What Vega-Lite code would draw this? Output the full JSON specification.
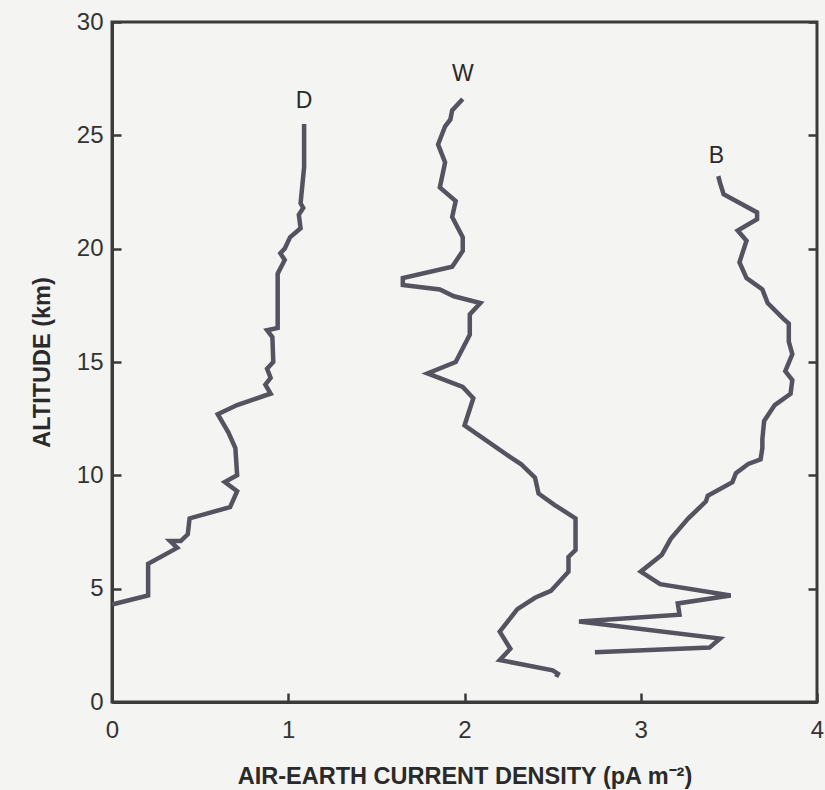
{
  "$schema": "https://vega.github.io/schema/vega-lite/v6.json",
  "width": 705,
  "height": 680,
  "autosize": {"type": "none"},
  "padding": {"left": 112, "top": 22, "right": 8, "bottom": 88},
  "background": "#f4f4f2",
  "config": {
    "view": {"stroke": "#3a3a3a", "strokeWidth": 3},
    "axis": {
      "domainColor": "#3a3a3a", "domainWidth": 3,
      "tickColor": "#3a3a3a", "tickWidth": 2.5, "tickSize": -9,
      "grid": false, "format": "d", "labelFlush": false,
      "labelFont": "Liberation Sans", "labelFontSize": 24, "labelColor": "#333333",
      "titleFont": "Liberation Sans", "titleFontSize": 23.5, "titleFontWeight": "bold", "titleColor": "#2a2a2a"
    }
  },
  "datasets": {
    "curves": [
      {"s": "D", "i": 1, "x": 1.09, "y": 25.5},
      {"s": "D", "i": 2, "x": 1.09, "y": 23.6},
      {"s": "D", "i": 3, "x": 1.07, "y": 22.0},
      {"s": "D", "i": 4, "x": 1.085, "y": 21.8},
      {"s": "D", "i": 5, "x": 1.06, "y": 21.5},
      {"s": "D", "i": 6, "x": 1.07, "y": 20.9},
      {"s": "D", "i": 7, "x": 1.01, "y": 20.5},
      {"s": "D", "i": 8, "x": 0.98, "y": 20.0},
      {"s": "D", "i": 9, "x": 0.955, "y": 19.8},
      {"s": "D", "i": 10, "x": 0.98, "y": 19.5},
      {"s": "D", "i": 11, "x": 0.94, "y": 18.9},
      {"s": "D", "i": 12, "x": 0.94, "y": 16.5},
      {"s": "D", "i": 13, "x": 0.88, "y": 16.4},
      {"s": "D", "i": 14, "x": 0.91, "y": 16.1},
      {"s": "D", "i": 15, "x": 0.915, "y": 15.0},
      {"s": "D", "i": 16, "x": 0.88, "y": 14.7},
      {"s": "D", "i": 17, "x": 0.9, "y": 14.3},
      {"s": "D", "i": 18, "x": 0.87, "y": 14.0},
      {"s": "D", "i": 19, "x": 0.9, "y": 13.6},
      {"s": "D", "i": 20, "x": 0.86, "y": 13.5},
      {"s": "D", "i": 21, "x": 0.71, "y": 13.1},
      {"s": "D", "i": 22, "x": 0.6, "y": 12.7},
      {"s": "D", "i": 23, "x": 0.66, "y": 11.9},
      {"s": "D", "i": 24, "x": 0.7, "y": 11.2},
      {"s": "D", "i": 25, "x": 0.71, "y": 10.0},
      {"s": "D", "i": 26, "x": 0.64, "y": 9.7},
      {"s": "D", "i": 27, "x": 0.71, "y": 9.3},
      {"s": "D", "i": 28, "x": 0.67, "y": 8.6},
      {"s": "D", "i": 29, "x": 0.44, "y": 8.1},
      {"s": "D", "i": 30, "x": 0.43, "y": 7.4},
      {"s": "D", "i": 31, "x": 0.39, "y": 7.1},
      {"s": "D", "i": 32, "x": 0.33, "y": 7.1},
      {"s": "D", "i": 33, "x": 0.37, "y": 6.8},
      {"s": "D", "i": 34, "x": 0.205, "y": 6.1},
      {"s": "D", "i": 35, "x": 0.205, "y": 4.7},
      {"s": "D", "i": 36, "x": 0.0, "y": 4.3},

      {"s": "W", "i": 1, "x": 1.99, "y": 26.6},
      {"s": "W", "i": 2, "x": 1.93, "y": 26.1},
      {"s": "W", "i": 3, "x": 1.92, "y": 25.7},
      {"s": "W", "i": 4, "x": 1.89, "y": 25.4},
      {"s": "W", "i": 5, "x": 1.85, "y": 24.6},
      {"s": "W", "i": 6, "x": 1.89, "y": 23.8},
      {"s": "W", "i": 7, "x": 1.86, "y": 22.7},
      {"s": "W", "i": 8, "x": 1.95, "y": 22.1},
      {"s": "W", "i": 9, "x": 1.93, "y": 21.4},
      {"s": "W", "i": 10, "x": 1.99, "y": 20.5},
      {"s": "W", "i": 11, "x": 1.99, "y": 19.9},
      {"s": "W", "i": 12, "x": 1.93, "y": 19.2},
      {"s": "W", "i": 13, "x": 1.65, "y": 18.7},
      {"s": "W", "i": 14, "x": 1.65, "y": 18.4},
      {"s": "W", "i": 15, "x": 1.86, "y": 18.2},
      {"s": "W", "i": 16, "x": 1.94, "y": 17.9},
      {"s": "W", "i": 17, "x": 2.09, "y": 17.6},
      {"s": "W", "i": 18, "x": 2.03, "y": 17.1},
      {"s": "W", "i": 19, "x": 2.03, "y": 16.2},
      {"s": "W", "i": 20, "x": 1.95, "y": 15.0},
      {"s": "W", "i": 21, "x": 1.79, "y": 14.5},
      {"s": "W", "i": 22, "x": 1.99, "y": 13.9},
      {"s": "W", "i": 23, "x": 2.05, "y": 13.4},
      {"s": "W", "i": 24, "x": 2.0, "y": 12.2},
      {"s": "W", "i": 25, "x": 2.26, "y": 10.8},
      {"s": "W", "i": 26, "x": 2.32, "y": 10.5},
      {"s": "W", "i": 27, "x": 2.4, "y": 9.9},
      {"s": "W", "i": 28, "x": 2.42, "y": 9.2},
      {"s": "W", "i": 29, "x": 2.51, "y": 8.7},
      {"s": "W", "i": 30, "x": 2.63, "y": 8.1},
      {"s": "W", "i": 31, "x": 2.63, "y": 6.7},
      {"s": "W", "i": 32, "x": 2.59, "y": 6.4},
      {"s": "W", "i": 33, "x": 2.59, "y": 5.75},
      {"s": "W", "i": 34, "x": 2.49, "y": 4.9},
      {"s": "W", "i": 35, "x": 2.4, "y": 4.6},
      {"s": "W", "i": 36, "x": 2.3, "y": 4.1},
      {"s": "W", "i": 37, "x": 2.23, "y": 3.4},
      {"s": "W", "i": 38, "x": 2.2, "y": 3.1},
      {"s": "W", "i": 39, "x": 2.26, "y": 2.35},
      {"s": "W", "i": 40, "x": 2.2, "y": 1.85},
      {"s": "W", "i": 41, "x": 2.5, "y": 1.4},
      {"s": "W", "i": 42, "x": 2.53, "y": 1.25},
      {"s": "W", "i": 43, "x": 2.52, "y": 1.1},

      {"s": "B", "i": 1, "x": 3.44, "y": 23.2},
      {"s": "B", "i": 2, "x": 3.45, "y": 22.9},
      {"s": "B", "i": 3, "x": 3.47, "y": 22.4},
      {"s": "B", "i": 4, "x": 3.66, "y": 21.6},
      {"s": "B", "i": 5, "x": 3.66, "y": 21.3},
      {"s": "B", "i": 6, "x": 3.55, "y": 20.8},
      {"s": "B", "i": 7, "x": 3.6, "y": 20.35},
      {"s": "B", "i": 8, "x": 3.56, "y": 19.4},
      {"s": "B", "i": 9, "x": 3.6, "y": 18.7},
      {"s": "B", "i": 10, "x": 3.69, "y": 18.2},
      {"s": "B", "i": 11, "x": 3.72, "y": 17.6},
      {"s": "B", "i": 12, "x": 3.81, "y": 16.9},
      {"s": "B", "i": 13, "x": 3.84, "y": 16.7},
      {"s": "B", "i": 14, "x": 3.84, "y": 15.9},
      {"s": "B", "i": 15, "x": 3.86, "y": 15.35},
      {"s": "B", "i": 16, "x": 3.82, "y": 14.6},
      {"s": "B", "i": 17, "x": 3.86, "y": 14.2},
      {"s": "B", "i": 18, "x": 3.85, "y": 13.6},
      {"s": "B", "i": 19, "x": 3.76, "y": 13.1},
      {"s": "B", "i": 20, "x": 3.7, "y": 12.4},
      {"s": "B", "i": 21, "x": 3.69, "y": 11.6},
      {"s": "B", "i": 22, "x": 3.69, "y": 11.2},
      {"s": "B", "i": 23, "x": 3.68, "y": 10.7},
      {"s": "B", "i": 24, "x": 3.61, "y": 10.5},
      {"s": "B", "i": 25, "x": 3.54, "y": 10.1},
      {"s": "B", "i": 26, "x": 3.52, "y": 9.7},
      {"s": "B", "i": 27, "x": 3.38, "y": 9.1},
      {"s": "B", "i": 28, "x": 3.37, "y": 8.85},
      {"s": "B", "i": 29, "x": 3.27, "y": 8.1},
      {"s": "B", "i": 30, "x": 3.17, "y": 7.2},
      {"s": "B", "i": 31, "x": 3.12, "y": 6.5},
      {"s": "B", "i": 32, "x": 3.0, "y": 5.75},
      {"s": "B", "i": 33, "x": 3.11, "y": 5.2},
      {"s": "B", "i": 34, "x": 3.51, "y": 4.7},
      {"s": "B", "i": 35, "x": 3.21, "y": 4.35},
      {"s": "B", "i": 36, "x": 3.22, "y": 3.85},
      {"s": "B", "i": 37, "x": 2.65, "y": 3.55},
      {"s": "B", "i": 38, "x": 3.45, "y": 2.8},
      {"s": "B", "i": 39, "x": 3.39, "y": 2.4},
      {"s": "B", "i": 40, "x": 2.74, "y": 2.2}
    ],
    "labels": [
      {"s": "D", "x": 1.09, "y": 26.5},
      {"s": "W", "x": 1.99, "y": 27.7},
      {"s": "B", "x": 3.43, "y": 24.1}
    ]
  },
  "layer": [
    {
      "data": {"name": "curves"},
      "mark": {"type": "line", "color": "#55535f", "strokeWidth": 4.5, "strokeJoin": "miter", "strokeCap": "butt"},
      "encoding": {
        "x": {"field": "x", "type": "quantitative",
              "scale": {"domain": [0, 4], "nice": false, "zero": false},
              "axis": {"values": [0, 1, 2, 3, 4], "title": "AIR-EARTH CURRENT DENSITY (pA m⁻²)", "labelPadding": 25, "titlePadding": 22}},
        "y": {"field": "y", "type": "quantitative",
              "scale": {"domain": [0, 30], "nice": false, "zero": false},
              "axis": {"values": [0, 5, 10, 15, 20, 25, 30], "title": "ALTITUDE (km)", "orient": "left", "labelPadding": 18, "titlePadding": 22}},
        "detail": {"field": "s"},
        "order": {"field": "i", "type": "quantitative"}
      }
    },
    {
      "data": {"name": "labels"},
      "mark": {"type": "text", "font": "Liberation Sans", "fontSize": 23, "color": "#2a2a2a", "baseline": "middle", "align": "center"},
      "encoding": {
        "x": {"field": "x", "type": "quantitative"},
        "y": {"field": "y", "type": "quantitative",
              "axis": {"orient": "right", "values": [0, 5, 10, 15, 20, 25, 30], "labels": false, "title": null, "domain": false}},
        "text": {"field": "s"}
      }
    }
  ],
  "resolve": {"axis": {"y": "independent"}}
}
